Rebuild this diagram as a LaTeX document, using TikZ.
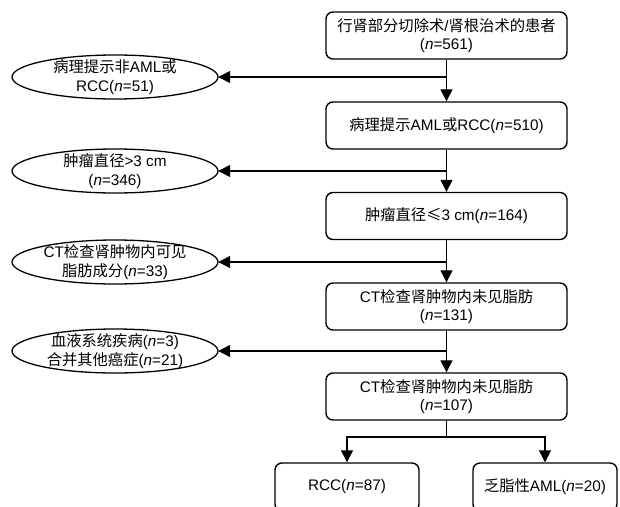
\documentclass[tikz,border=0pt]{standalone}
\usepackage{fontspec}
\setmainfont{Liberation Sans}
\newfontfamily\cjkfont{Noto Sans CJK SC}
\usetikzlibrary{arrows.meta,shapes.geometric}
\newcommand\zhx[1]{{\cjkfont #1}}
\newcommand\myn{\textit{n}}
\begin{document}
\begin{tikzpicture}[x=1pt,y=-1pt,
  every node/.style={font=\fontsize{15.3}{18.5}\selectfont, align=center, inner sep=0pt},
  stepbox/.style={draw, line width=1.4pt, rounded corners=7pt, minimum width=241pt, minimum height=47pt},
  leafbox/.style={draw, line width=1.4pt, rounded corners=7pt, minimum width=144pt, minimum height=48pt},
  ellbox/.style={minimum width=206pt, minimum height=44pt},
  ellline/.style={line width=1.3pt},
  conn/.style={line width=1.3pt},
  arr/.style={line width=1.3pt, -{Triangle[length=12pt,width=12pt]}}]
\useasboundingbox (0,0) rectangle (620,506);
% main boxes
\node[stepbox] (b1) at (446.5,35.5) {\zhx{行肾部分切除术}/\zhx{肾根治术的患者}\\(\myn=561)};
\node[stepbox] (b2) at (446.5,125.5) {\zhx{病理提示}AML\zhx{或}RCC(\myn=510)};
\node[stepbox] (b3) at (446.5,216) {\zhx{肿瘤直径≤}3 cm(\myn=164)};
\node[stepbox] (b4) at (446.5,306.5) {CT\zhx{检查肾肿物内未见脂肪}\\(\myn=131)};
\node[stepbox] (b5) at (446.5,396.5) {CT\zhx{检查肾肿物内未见脂肪}\\(\myn=107)};
\node[leafbox] (c1) at (347,487) {RCC(\myn=87)};
\node[leafbox] (c2) at (545,487) {\zhx{乏脂性}AML(\myn=20)};
% exclusion ellipses
\node[ellbox] (e1) at (115,77) {\zhx{病理提示非}AML\zhx{或}\\RCC(\myn=51)};
\node[ellbox] (e2) at (115,171) {\zhx{肿瘤直径}>3 cm\\(\myn=346)};
\node[ellbox] (e3) at (115,262) {CT\zhx{检查肾肿物内可见}\\\zhx{脂肪成分}(\myn=33)};
\node[ellbox] (e4) at (115,351) {\zhx{血液系统疾病}(\myn=3)\\\zhx{合并其他癌症}(\myn=21)};
\foreach \e in {e1,e2,e3,e4}
  \draw[ellline] (\e.center) ellipse [x radius=103, y radius=22];
% vertical flow
\draw[arr] (b1) -- (b2);
\draw[arr] (b2) -- (b3);
\draw[arr] (b3) -- (b4);
\draw[arr] (b4) -- (b5);
% side branches
\draw[arr] (b1.south |- e1.east) -- (e1.east);
\draw[arr] (b2.south |- e2.east) -- (e2.east);
\draw[arr] (b3.south |- e3.east) -- (e3.east);
\draw[arr] (b4.south |- e4.east) -- (e4.east);
% final split
\coordinate (split) at (446.5,437);
\draw[conn] (b5.south) -- (split);
\draw[arr] (split) -| (c1.north);
\draw[arr] (split) -| (c2.north);
\end{tikzpicture}
\end{document}
